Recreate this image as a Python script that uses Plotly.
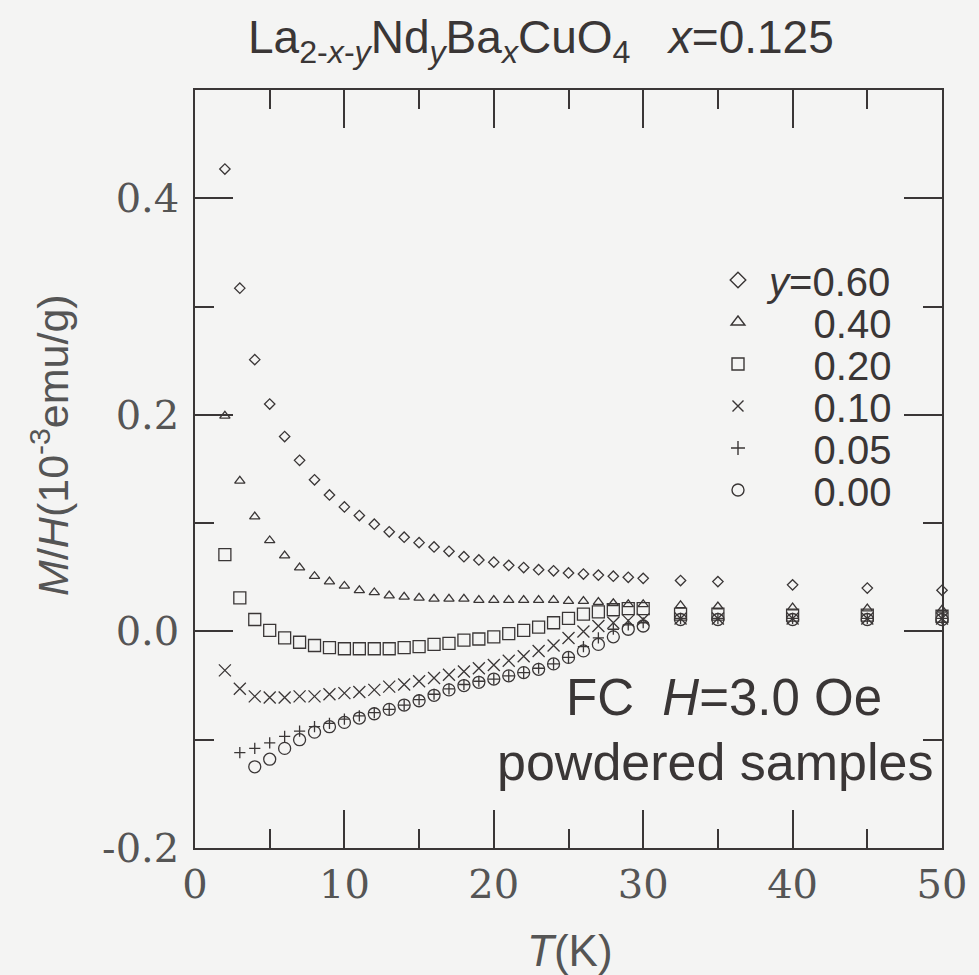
import plotly.graph_objects as go

# ---------------- data ----------------
T_full = [2, 3, 4, 5, 6, 7, 8, 9, 10, 11, 12, 13, 14, 15, 16, 17, 18, 19, 20,
          21, 22, 23, 24, 25, 26, 27, 28, 29, 30, 32.5, 35, 40, 45, 50]
T_from3 = T_full[1:]
T_from4 = T_full[2:]

mh_y060 = [0.427, 0.317, 0.251, 0.210, 0.180, 0.158, 0.140, 0.126, 0.115, 0.107,
           0.099, 0.092, 0.087, 0.082, 0.078, 0.074, 0.069, 0.066, 0.064, 0.061,
           0.059, 0.057, 0.056, 0.054, 0.053, 0.052, 0.051, 0.050, 0.049,
           0.047, 0.046, 0.043, 0.040, 0.038]
mh_y040 = [0.199, 0.139, 0.106, 0.084, 0.070, 0.059, 0.051, 0.046, 0.042, 0.038,
           0.036, 0.033, 0.032, 0.031, 0.030, 0.030, 0.030, 0.029, 0.029, 0.029,
           0.029, 0.029, 0.029, 0.028, 0.028, 0.027, 0.026, 0.025, 0.025,
           0.024, 0.023, 0.022, 0.021, 0.020]
mh_y020 = [0.071, 0.031, 0.011, 0.001, -0.006, -0.010, -0.013, -0.015, -0.016, -0.016,
           -0.016, -0.016, -0.015, -0.014, -0.012, -0.011, -0.008, -0.007, -0.005, -0.002,
           0.001, 0.004, 0.008, 0.012, 0.016, 0.018, 0.020, 0.021, 0.021,
           0.016, 0.016, 0.015, 0.015, 0.014]
mh_y010 = [-0.036, -0.053, -0.060, -0.061, -0.061, -0.060, -0.060, -0.058, -0.057, -0.056,
           -0.054, -0.051, -0.049, -0.046, -0.043, -0.040, -0.037, -0.034, -0.031, -0.027,
           -0.023, -0.018, -0.013, -0.006, 0.000, 0.005, 0.008, 0.010, 0.011,
           0.012, 0.012, 0.012, 0.012, 0.012]
mh_y005 = [-0.112, -0.108, -0.103, -0.097, -0.092, -0.088, -0.085, -0.081, -0.078,
           -0.075, -0.072, -0.068, -0.063, -0.058, -0.053, -0.049, -0.046, -0.044, -0.041,
           -0.038, -0.034, -0.030, -0.024, -0.014, -0.006, 0.002, 0.006, 0.008,
           0.012, 0.012, 0.012, 0.012, 0.012]
mh_y000 = [-0.125, -0.118, -0.108, -0.100, -0.093, -0.088, -0.084, -0.080,
           -0.076, -0.072, -0.068, -0.064, -0.059, -0.054, -0.050, -0.047, -0.044, -0.041,
           -0.038, -0.035, -0.030, -0.024, -0.018, -0.012, -0.005, 0.002, 0.005,
           0.011, 0.011, 0.011, 0.011, 0.011]

legend_labels = ["<i>y</i>=0.60", "0.40", "0.20", "0.10", "0.05", "0.00"]
x_minor_ticks = [5, 15, 25, 35, 45]
y_ticks = [-0.2, 0.0, 0.2, 0.4]
y_tick_text = ["-0.2", "0.0", "0.2", "0.4"]
y_minor_ticks = [-0.1, 0.1, 0.3]

# ---------------- style ----------------
INK = "#3a3636"
BG = "#f4f4f3"
series = [
    (T_full, mh_y060, "diamond-open", 8, 12),
    (T_full, mh_y040, "triangle-up-open", 9, 12),
    (T_full, mh_y020, "square-open", 12, 12),
    (T_full, mh_y010, "x-thin-open", 12, 11),
    (T_from3, mh_y005, "cross-thin-open", 8, 10),
    (T_from4, mh_y000, "circle-open", 12, 12),
]

L, R, TOP, BOT = 195, 27, 90, 127
W, H = 979, 975
pw, ph = W - L - R, H - TOP - BOT


def px2x(px):
    return (px - L) / pw


def py2y(py):
    return (H - BOT - py) / ph


fig = go.Figure()
for (tx, ty, sym, sz, lsz) in series:
    fig.add_trace(go.Scatter(
        x=tx, y=ty, mode="markers", showlegend=False, cliponaxis=False,
        marker=dict(symbol=sym, size=sz, color=INK, line=dict(width=1.3, color=INK)),
    ))

sans = "Liberation Sans"
row_y = [280, 322, 364, 406, 448, 490]
pads = [1, 5, 5, 5, 5, 5]
legends = {}
for i, ((tx, ty, sym, sz, lsz), lab, ry, pad) in enumerate(zip(series, legend_labels, row_y, pads)):
    lname = "legend" if i == 0 else f"legend{i + 1}"
    # legend-only key (no data points); lives on the overlaid minor-tick axes
    fig.add_trace(go.Scatter(
        x=[None], y=[None], mode="markers", name="\u00a0" * pad + lab, showlegend=True,
        legend=lname, xaxis="x2", yaxis="y2",
        marker=dict(symbol=sym, size=lsz, color=INK, line=dict(width=1.4, color=INK)),
    ))
    legends[lname] = dict(x=px2x(725), y=py2y(ry), xanchor="left", yanchor="middle",
                          bgcolor="rgba(0,0,0,0)", borderwidth=0,
                          font=dict(family=sans, size=40, color=INK))

tickfont = dict(family="DejaVu Serif", size=40, color="#555555")
line_common = dict(showline=True, linecolor=INK, linewidth=1.5, mirror="allticks",
                   ticks="inside", tickwidth=1.5, tickcolor=INK,
                   showgrid=False, zeroline=False)

fig.update_layout(
    xaxis=dict(range=[0, 50], tickmode="linear", tick0=0, dtick=10, ticklen=38,
               tickfont=tickfont, ticklabelstandoff=0,
               minor=dict(tickmode="linear", tick0=0, dtick=5, ticks="inside", ticklen=19,
                          tickwidth=1.5, tickcolor=INK, showgrid=False),
               **line_common),
    yaxis=dict(range=[-0.2, 0.5], tickmode="array", tickvals=y_ticks, ticktext=y_tick_text,
               ticklen=38, tickfont=tickfont, ticklabelstandoff=6, **line_common),
    # overlaid axes: x2 and y2 carry the minor ticks
    xaxis2=dict(overlaying="x", anchor="y2", side="top", range=[0, 50],
                tickmode="array", tickvals=x_minor_ticks, ticks="inside", ticklen=19,
                tickwidth=1.5, tickcolor=INK, mirror="allticks", showline=False,
                showgrid=False, zeroline=False, showticklabels=False, layer="above traces"),
    yaxis2=dict(overlaying="y", anchor="x2", side="left", range=[-0.2, 0.5],
                tickmode="array", tickvals=y_minor_ticks, ticks="inside", ticklen=19,
                tickwidth=1.5, tickcolor=INK, mirror="allticks", showline=False,
                showgrid=False, zeroline=False, showticklabels=False),
)

annotations = [
    dict(text="La<sub>2-<i>x</i>-<i>y</i></sub>Nd<sub><i>y</i></sub>Ba<sub><i>x</i></sub>CuO<sub>4</sub>"
              "   <i>x</i>=0.125",
         x=px2x(546), y=py2y(40), xanchor="center", yanchor="middle",
         font=dict(family=sans, size=46, color=INK)),
    dict(text="<i>M</i>/<i>H</i>(10<sup>-3</sup>emu/g)", textangle=-90,
         x=px2x(48), y=py2y(445), xanchor="center", yanchor="middle",
         font=dict(family=sans, size=43, color="#555555")),
    dict(text="<i>T</i>(K)", x=px2x(575), y=py2y(950), xanchor="center", yanchor="middle",
         font=dict(family=sans, size=44, color="#555555")),
    dict(text="FC  <i>H</i>=3.0 Oe", x=px2x(893), y=py2y(697), xanchor="right", yanchor="middle",
         font=dict(family=sans, size=51, color=INK)),
    dict(text="powdered samples", x=px2x(945), y=py2y(762), xanchor="right", yanchor="middle",
         font=dict(family=sans, size=52, color=INK)),
]
for a in annotations:
    a.update(xref="paper", yref="paper", showarrow=False)

fig.update_layout(
    width=W, height=H,
    margin=dict(l=L, r=R, t=TOP, b=BOT, pad=0),
    paper_bgcolor=BG, plot_bgcolor=BG,
    annotations=annotations,
    **legends,
)

fig.write_html("out.html")
